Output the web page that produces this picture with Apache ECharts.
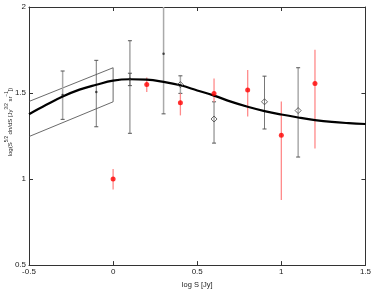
<!DOCTYPE html>
<html><head><meta charset="utf-8">
<script src="https://cdn.jsdelivr.net/npm/echarts@6/dist/echarts.min.js"></script>
<style>html,body{margin:0;padding:0;background:#fff}#c{width:374px;height:294px}</style>
</head><body><div id="c"></div>
<script>
// Model curve
const curveX = [-0.5,-0.4,-0.3,-0.2,-0.1,0,0.1,0.2,0.3,0.4,0.5,0.6,0.7,0.8,0.9,1.0,1.1,1.2,1.3,1.4,1.5];
const curveY = [1.377,1.43,1.48,1.52,1.548,1.572,1.58,1.578,1.565,1.545,1.515,1.485,1.45,1.42,1.395,1.375,1.358,1.343,1.332,1.325,1.32];
// Bow/box outline
const boxX = [-0.5, 0, 0, -0.5];
const boxY = [1.451, 1.647, 1.449, 1.247];
// Grey (light) data: x, y, low, high
const greyAX = [-0.3, 0.3, 0.4, 1.1];
const greyAY = [1.489, 1.728, 1.549, 1.398];
const greyALo = [1.347, 1.379, 1.498, 1.128];
const greyAHi = [1.628, 2.05, 1.6, 1.647];
const greyAOpen = [false, false, true, true];
// Dark data
const darkX = [-0.1, 0.1, 0.1, 0.6, 0.9];
const darkY = [1.506, 1.581, 1.581, 1.349, 1.449];
const darkLo = [1.304, 1.266, 1.543, 1.209, 1.291];
const darkHi = [1.69, 1.804, 1.615, 1.449, 1.598];
const darkOpen = [false, false, false, true, true];
// Red data
const redX = [0, 0.2, 0.4, 0.6, 0.8, 1.0, 1.2];
const redY = [1.0, 1.549, 1.444, 1.498, 1.517, 1.255, 1.555];
const redLo = [0.94, 1.506, 1.37, 1.449, 1.364, 0.879, 1.178];
const redHi = [1.059, 1.591, 1.498, 1.585, 1.634, 1.451, 1.751];

function errSeries(xs, lo, hi, color, width, cap) {
  return {
    type: 'custom', z: 3,
    data: xs.map((x, i) => [x, lo[i], hi[i]]),
    renderItem: function (params, api) {
      const x = api.value(0);
      const a = api.coord([x, api.value(2)]);
      const b = api.coord([x, api.value(1)]);
      const cs = params.coordSys;
      const top = Math.max(a[1], cs.y);
      const bot = Math.min(b[1], cs.y + cs.height);
      const children = [{type: 'line', shape: {x1: a[0], y1: top, x2: a[0], y2: bot}, style: {stroke: color, lineWidth: width}}];
      if (cap) {
        if (a[1] >= cs.y) children.push({type: 'line', shape: {x1: a[0]-2, y1: a[1], x2: a[0]+2, y2: a[1]}, style: {stroke: '#555', lineWidth: 1}});
        children.push({type: 'line', shape: {x1: b[0]-2, y1: b[1], x2: b[0]+2, y2: b[1]}, style: {stroke: '#555', lineWidth: 1}});
      }
      return {type: 'group', children: children};
    }
  };
}
function ptSeries(xs, ys, open, color) {
  return {
    type: 'scatter', z: 5,
    data: xs.map((x, i) => ({
      value: [x, ys[i]],
      symbol: open[i] ? 'diamond' : 'circle',
      symbolSize: open[i] ? 6 : 2.5,
      itemStyle: open[i] ? {color: 'rgba(255,255,255,0)', borderColor: '#444', borderWidth: 1} : {color: color}
    }))
  };
}
const chart = echarts.init(document.getElementById('c'), null, {renderer: 'canvas'});
const axisCommon = {
  type: 'value', splitLine: {show: false},
  axisLine: {show: true, onZero: false, lineStyle: {color: '#333', width: 1}},
  axisTick: {show: true, inside: true, length: 4, lineStyle: {color: '#333'}},
};
chart.setOption({
  animation: false,
  grid: {left: 29, right: 8, top: 7, bottom: 22},
  xAxis: [
    Object.assign({}, axisCommon, {min: -0.5, max: 1.5, interval: 0.5, position: 'bottom',
      axisLabel: {fontSize: 8, color: '#222', margin: 3, fontFamily: 'Liberation Sans'},
      name: 'log S [Jy]', nameLocation: 'middle', nameGap: 13,
      nameTextStyle: {fontSize: 7.5, color: '#222', fontFamily: 'Liberation Sans'}}),
    Object.assign({}, axisCommon, {min: -0.5, max: 1.5, interval: 0.5, position: 'top', axisLabel: {show: false}})
  ],
  yAxis: [
    Object.assign({}, axisCommon, {min: 0.5, max: 2, interval: 0.5, position: 'left',
      axisLabel: {fontSize: 8, color: '#222', margin: 3, fontFamily: 'Liberation Sans'}}),
    Object.assign({}, axisCommon, {min: 0.5, max: 2, interval: 0.5, position: 'right', axisLabel: {show: false}})
  ],
  graphic: [{
    type: 'text', x: 4, y: 122, rotation: Math.PI / 2,
    style: {
      text: '{n|log(S}{s|5/2}{n| dn/dS [Jy}{s|3/2}{n| sr}{s|−1}{n|])}',
      align: 'center', verticalAlign: 'top', fill: '#222',
      rich: {
        n: {fontSize: 6, fontFamily: 'Liberation Sans', fill: '#222', lineHeight: 9, verticalAlign: 'bottom'},
        s: {fontSize: 4.5, fontFamily: 'Liberation Sans', fill: '#222', lineHeight: 9, verticalAlign: 'top'}
      }
    }
  }],
  series: [
    {type: 'line', data: boxX.map((x, i) => [x, boxY[i]]), symbol: 'none', z: 2,
      lineStyle: {color: '#444', width: 0.8}},
    errSeries(greyAX, greyALo, greyAHi, '#aaa', 1.5, true),
    errSeries(darkX, darkLo, darkHi, '#555', 0.8, true),
    errSeries(redX, redLo, redHi, '#ff8a8a', 1.3, false),
    {type: 'line', data: curveX.map((x, i) => [x, curveY[i]]), symbol: 'none', smooth: 0.4, z: 4,
      lineStyle: {color: '#000', width: 2.2}},
    ptSeries(greyAX, greyAY, greyAOpen, '#222'),
    ptSeries(darkX, darkY, darkOpen, '#222'),
    {type: 'scatter', z: 6, data: redX.map((x, i) => [x, redY[i]]), symbol: 'circle', symbolSize: 5,
      itemStyle: {color: '#ff0000'}}
  ]
});
</script></body></html>
